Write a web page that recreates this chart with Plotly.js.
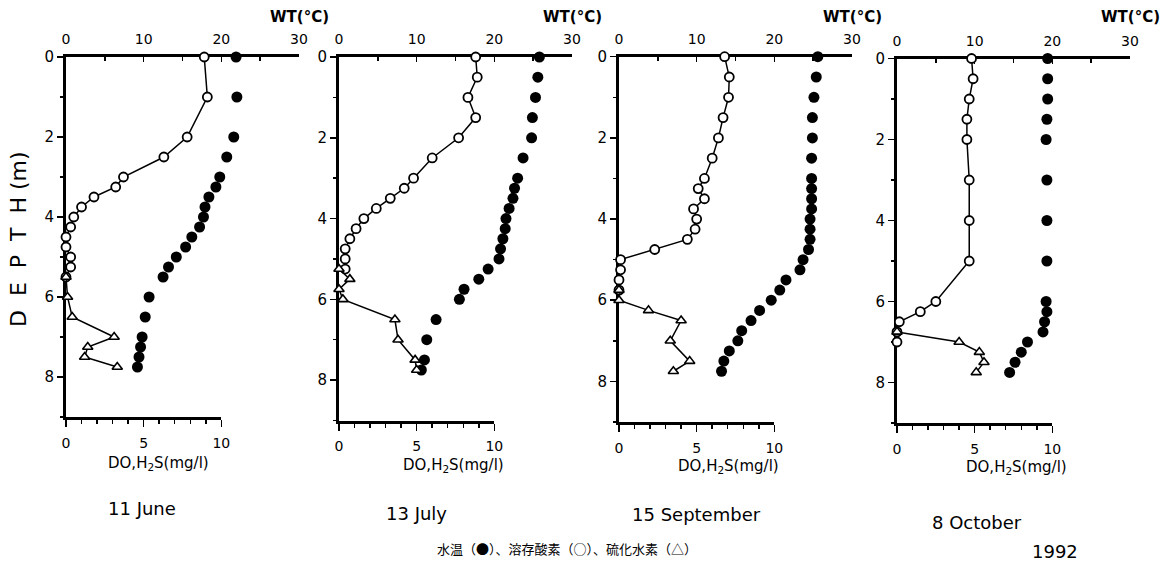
<!DOCTYPE html>
<html><head><meta charset="utf-8">
<script src="https://cdn.plot.ly/plotly-3.0.1.min.js"></script>
<style>body{margin:0;background:#fff}</style>
</head><body><div id="c" style="width:1163px;height:564px"></div>
<script>
// ---------- data ----------
const dates = ['11 June', '13 July', '15 September', '8 October'];
const yearLabel = '1992';
const legendText = '水温（●）、溶存酸素（○）、硫化水素（△）';

const wtDepth1 = [0,1,2,2.5,3,3.25,3.5,3.75,4,4.25,4.5,4.75,5,5.25,5.5,6,6.5,7,7.25,7.5,7.75];
const wt1      = [21.9,22.0,21.6,20.7,19.8,19.3,18.4,17.9,17.7,17.2,16.2,15.4,14.2,13.2,12.5,10.7,10.2,9.8,9.6,9.4,9.2];
const doDepth1 = [0,1,2,2.5,3,3.25,3.5,3.75,4,4.25,4.5,4.75,5,5.25,5.5];
const do1      = [8.9,9.1,7.8,6.3,3.7,3.2,1.8,1.0,0.5,0.3,0,0,0.3,0.3,0];
const h2sDepth1 = [5.5,6,6.5,7,7.25,7.5,7.75];
const h2s1      = [0,0.1,0.4,3.1,1.4,1.2,3.3];

const wtDepth2 = [0,0.5,1,1.5,2,2.5,3,3.25,3.5,3.75,4,4.25,4.5,4.75,5,5.25,5.5,5.75,6,6.5,7,7.5,7.75];
const wt2      = [25.8,25.6,25.3,24.9,24.8,23.7,23.0,22.6,22.4,21.9,21.5,21.4,21.1,20.8,20.6,19.2,18.0,16.1,15.5,12.5,11.3,11.0,10.6];
const doDepth2 = [0,0.5,1,1.5,2,2.5,3,3.25,3.5,3.75,4,4.25,4.5,4.75,5,5.25];
const do2      = [8.8,8.9,8.3,8.8,7.7,6.0,4.8,4.2,3.3,2.4,1.6,1.1,0.7,0.4,0.4,0.4];
const h2sDepth2 = [5.25,5.5,5.75,6,6.5,7,7.5,7.75];
const h2s2      = [0,0.7,0,0.25,3.6,3.8,4.9,5.0];

const wtDepth3 = [0,0.5,1,1.5,2,2.5,3,3.25,3.5,3.75,4,4.25,4.5,4.75,5,5.25,5.5,5.75,6,6.25,6.5,6.75,7,7.25,7.5,7.75];
const wt3      = [25.6,25.4,25.1,24.9,24.9,24.8,24.8,24.8,24.8,24.8,24.6,24.6,24.6,24.4,23.7,23.3,21.5,20.7,19.6,18.1,17.0,15.8,15.3,14.2,13.5,13.2];
const doDepth3 = [0,0.5,1,1.5,2,2.5,3,3.25,3.5,3.75,4,4.25,4.5,4.75,5,5.25,5.5,5.75];
const do3      = [6.8,7.1,7.05,6.7,6.4,6.0,5.5,5.1,5.5,4.8,5.0,4.9,4.4,2.3,0.1,0.1,0,0];
const h2sDepth3 = [5.75,6,6.25,6.5,7,7.5,7.75];
const h2s3      = [0,0,1.9,4.0,3.3,4.55,3.5];

const wtDepth4 = [0,0.5,1,1.5,2,3,4,5,6,6.25,6.5,6.75,7,7.25,7.5,7.75];
const wt4      = [19.4,19.4,19.4,19.3,19.2,19.3,19.3,19.3,19.2,19.3,19.0,18.8,16.8,16.0,15.2,14.5];
const doDepth4 = [0,0.5,1,1.5,2,3,4,5,6,6.25,6.5,6.75,7];
const do4      = [4.8,4.9,4.65,4.5,4.5,4.65,4.65,4.65,2.5,1.5,0.15,0,0];
const h2sDepth4 = [6.75,7,7.25,7.5,7.75];
const h2s4      = [0,4.0,5.3,5.6,5.1];

// ---------- layout geometry (pixels) ----------
const W = 1163, H = 564;
const panels = [
  {L: 66,  top: 57,   bot: 417,   wt: [wtDepth1, wt1], dox: [doDepth1, do1], h2s: [h2sDepth1, h2s1], labX: 158,  labY: 463, dateX: 142, dateY: 508},
  {L: 339, top: 57,   bot: 420.5, wt: [wtDepth2, wt2], dox: [doDepth2, do2], h2s: [h2sDepth2, h2s2], labX: 453,  labY: 465, dateX: 416, dateY: 513},
  {L: 619, top: 56.7, bot: 422,   wt: [wtDepth3, wt3], dox: [doDepth3, do3], h2s: [h2sDepth3, h2s3], labX: 728,  labY: 466, dateX: 696, dateY: 514},
  {L: 897, top: 58.5, bot: 423,   wt: [wtDepth4, wt4], dox: [doDepth4, do4], h2s: [h2sDepth4, h2s4], labX: 1016, labY: 467, dateX: 977, dateY: 522}
];
const PW = 233;
const FONT = 'DejaVu Sans, Liberation Sans, sans-serif';

const traces = [];
const layout = {
  width: W, height: H,
  margin: {l: 0, r: 0, t: 0, b: 0},
  paper_bgcolor: '#fff', plot_bgcolor: 'rgba(0,0,0,0)',
  showlegend: false,
  font: {family: FONT, color: '#000', size: 14},
  annotations: []
};

panels.forEach((p, i) => {
  const xt = 2*i + 1, xb = 2*i + 2, yi = i + 1;
  const xtName = xt === 1 ? 'x' : 'x' + xt;
  const xbName = 'x' + xb;
  const yName = yi === 1 ? 'y' : 'y' + yi;
  const ydom = [1 - p.bot / H, 1 - p.top / H];

  // top axis: water temperature 0-30 °C over the full panel width
  layout[(xt === 1 ? 'xaxis' : 'xaxis' + xt)] = {
    domain: [p.L / W, (p.L + PW) / W], anchor: yName, side: 'top', range: [0, 30],
    showline: true, linewidth: 3, linecolor: '#000',
    showgrid: false, zeroline: false,
    tickmode: 'linear', tick0: 0, dtick: 10,
    ticks: 'inside', ticklen: 5, tickwidth: 1.5, tickcolor: '#000',
    minor: {dtick: 5, ticks: 'inside', ticklen: 4, tickwidth: 1.5, tickcolor: '#000', showgrid: false},
    ticklabelstandoff: 4,
    tickfont: {family: FONT, size: 14, color: '#000'}
  };
  // bottom axis: DO / H2S 0-10 mg/l (2/3 of panel width)
  layout['xaxis' + xb] = {
    domain: [p.L / W, (p.L + PW * 2 / 3) / W], anchor: yName, side: 'bottom', range: [0, 10],
    showline: true, linewidth: 3, linecolor: '#000',
    showgrid: false, zeroline: false,
    tickmode: 'linear', tick0: 0, dtick: 5,
    ticks: 'outside', ticklen: 7, tickwidth: 1.5, tickcolor: '#000',
    minor: {dtick: 1, ticks: 'outside', ticklen: 4, tickwidth: 1.5, tickcolor: '#000', showgrid: false},
    ticklabelstandoff: 4,
    tickfont: {family: FONT, size: 14, color: '#000'}
  };
  layout[(yi === 1 ? 'yaxis' : 'yaxis' + yi)] = {
    domain: ydom, anchor: xtName, range: [9, 0],
    showline: true, linewidth: 3, linecolor: '#000',
    showgrid: false, zeroline: false,
    tickmode: 'linear', tick0: 0, dtick: 2,
    ticks: 'outside', ticklen: 6, tickwidth: 1.5, tickcolor: '#000',
    minor: {dtick: 1, ticks: 'outside', ticklen: 3, tickwidth: 1.5, tickcolor: '#000', showgrid: false},
    tickfont: {family: FONT, size: 15, color: '#000'}
  };

  // WT (filled circles) on top axis
  traces.push({type: 'scatter', mode: 'markers', x: p.wt[1], y: p.wt[0], xaxis: xtName, yaxis: yName,
    marker: {color: '#000', size: 11}, cliponaxis: false});
  // DO (open circles, line)
  traces.push({type: 'scatter', mode: 'lines+markers', x: p.dox[1], y: p.dox[0], xaxis: xbName, yaxis: yName,
    line: {color: '#000', width: 1.5},
    marker: {symbol: 'circle', color: '#fff', size: 9, line: {color: '#000', width: 1.8}}, cliponaxis: false});
  // H2S (open triangles, line)
  traces.push({type: 'scatter', mode: 'lines+markers', x: p.h2s[1], y: p.h2s[0], xaxis: xbName, yaxis: yName,
    line: {color: '#000', width: 1.5},
    marker: {symbol: 'triangle-up', color: '#fff', size: 9, line: {color: '#000', width: 1.6}}, cliponaxis: false});

  layout.annotations.push({xref: xtName, yref: 'paper', x: 30, y: 1 - 17 / H, text: '<b>WT(°C)</b>',
    showarrow: false, xanchor: 'center', yanchor: 'middle', font: {family: FONT, size: 15, color: '#000'}});
  layout.annotations.push({xref: 'paper', yref: 'paper', x: p.labX / W, y: 1 - p.labY / H,
    text: 'DO,H<sub>2</sub>S(mg/l)', showarrow: false, xanchor: 'center', yanchor: 'middle',
    font: {family: FONT, size: 15, color: '#000'}});
  layout.annotations.push({xref: 'paper', yref: 'paper', x: p.dateX / W, y: 1 - p.dateY / H,
    text: dates[i], showarrow: false, xanchor: 'center', yanchor: 'middle',
    font: {family: FONT, size: 18, color: '#000'}});
});

layout.annotations.push({xref: 'paper', yref: 'paper', x: 1055 / W, y: 1 - 551 / H, text: yearLabel,
  showarrow: false, xanchor: 'center', yanchor: 'middle', font: {family: FONT, size: 18, color: '#000'}});
layout.annotations.push({xref: 'paper', yref: 'paper', x: 567 / W, y: 1 - 548 / H, text: legendText,
  showarrow: false, xanchor: 'center', yanchor: 'middle', font: {family: 'Noto Sans CJK JP', size: 13, color: '#000'}});
layout.annotations.push({xref: 'paper', yref: 'paper', x: 19 / W, y: 1 - 239 / H, text: 'D  E  P  T  H (m)',
  textangle: -90, showarrow: false, xanchor: 'center', yanchor: 'middle',
  font: {family: FONT, size: 22, color: '#000'}});

Plotly.newPlot('c', traces, layout, {staticPlot: true, displayModeBar: false});
</script></body></html>
